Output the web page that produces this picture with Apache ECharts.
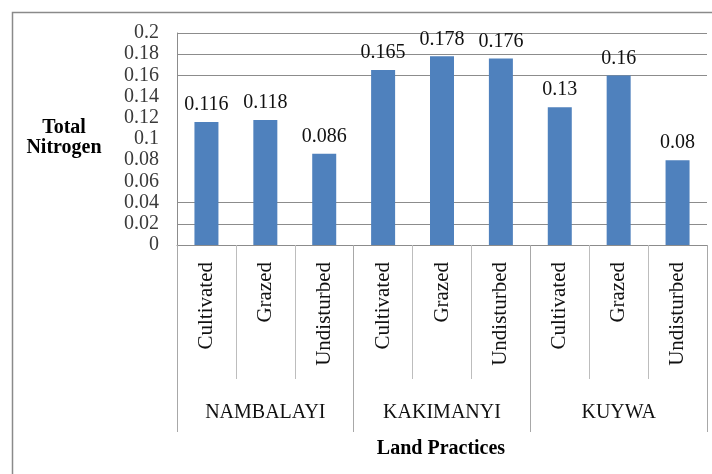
<!DOCTYPE html>
<html>
<head>
<meta charset="utf-8">
<script src="https://cdn.jsdelivr.net/npm/echarts@6/dist/echarts.min.js"></script>
<style>
html,body{margin:0;padding:0;background:#fff;}
#chart{width:712px;height:474px;}
</style>
</head>
<body>
<div id="chart"></div>
<script>
const practices = ['Cultivated','Grazed','Undisturbed','Cultivated','Grazed','Undisturbed','Cultivated','Grazed','Undisturbed'];
const sites = ['NAMBALAYI','KAKIMANYI','KUYWA'];
const nitrogen = [0.116, 0.118, 0.086, 0.165, 0.178, 0.176, 0.13, 0.16, 0.08];
const yTitle = 'Total\nNitrogen';
const xTitle = 'Land Practices';

const FONT = '"Liberation Serif", "Times New Roman", serif';
const GRID = '#8c8c8c';
const HIDE = 'rgba(0,0,0,0)';

const chart = echarts.init(document.getElementById('chart'), null, {renderer:'canvas'});
chart.setOption({
  animation: false,
  backgroundColor: '#fff',
  grid: {left: 177, right: 5, top: 33, bottom: 229, containLabel: false},
  xAxis: [
    {
      type: 'category',
      data: practices,
      position: 'bottom',
      axisLine: {show: true, lineStyle: {color: GRID, width: 1}},
      axisTick: {show: true, interval: 0, length: 134, lineStyle: {color: '#bdbdbd', width: 1}},
      axisLabel: {interval: 0, rotate: 90, margin: 17, fontFamily: FONT, fontSize: 21, color: '#111'},
      splitLine: {show: false}
    },
    {
      type: 'category',
      data: sites,
      position: 'bottom',
      axisLine: {show: false},
      axisTick: {show: true, interval: 0, length: 187, lineStyle: {color: '#a8a8a8', width: 1}},
      axisLabel: {interval: 0, margin: 158, fontFamily: FONT, fontSize: 20, color: '#111'},
      splitLine: {show: false}
    }
  ],
  yAxis: {
    type: 'value',
    min: 0, max: 0.2, interval: 0.02,
    axisLine: {show: true, lineStyle: {color: GRID, width: 1}},
    axisTick: {show: false},
    axisLabel: {margin: 18, fontFamily: FONT, fontSize: 20, color: '#3a3a3a'},
    splitLine: {show: true, lineStyle: {color: [GRID, GRID, GRID, HIDE, HIDE, HIDE, HIDE, HIDE, GRID, GRID, GRID], width: 1}}
  },
  series: [{
    type: 'bar',
    xAxisIndex: 0,
    data: nitrogen,
    barWidth: 24,
    itemStyle: {color: '#4f81bd'},
    label: {show: true, position: 'top', distance: 7, fontFamily: FONT, fontSize: 20, color: '#111'}
  }],
  graphic: [
    {type: 'polyline', shape: {points: [[12.5, 474], [12.5, 12.5], [712, 12.5]]}, style: {stroke: '#8a8a8a', lineWidth: 1.5, fill: null}, silent: true},
    {type: 'text', x: 64, y: 138, style: {text: yTitle, fontFamily: FONT, fontSize: 20, fontWeight: 'bold', fill: '#000', align: 'center', verticalAlign: 'middle', lineHeight: 20}},
    {type: 'text', x: 441, y: 449, style: {text: xTitle, fontFamily: FONT, fontSize: 20, fontWeight: 'bold', fill: '#000', align: 'center', verticalAlign: 'middle'}}
  ]
});
</script>
</body>
</html>
